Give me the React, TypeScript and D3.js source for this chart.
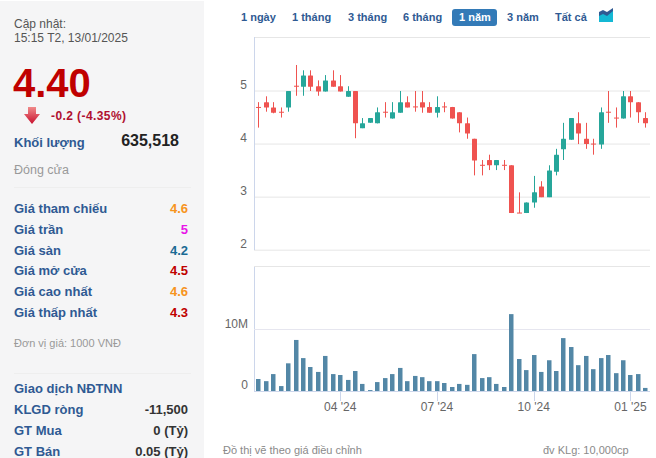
import React from "react";
import * as d3 from "d3";

const opens = [4.69,4.79,4.69,4.6,4.69,5.09,5.08,5.29,5.09,4.99,5.2,5.09,4.89,5.0,4.3,4.4,4.39,4.6,4.48,4.59,4.79,4.7,4.79,4.7,4.59,4.7,4.7,4.6,4.39,4.1,3.6,3.7,3.6,3.6,3.6,2.7,2.7,2.9,3.2,3.0,3.48,3.9,4.08,4.39,4.1,4.0,3.99,4.6,4.49,4.48,4.9,4.79,4.49];
const closes = [4.69,4.69,4.59,4.6,5.0,5.09,5.29,5.08,4.99,5.2,5.08,4.99,5.0,4.39,4.39,4.49,4.6,4.6,4.6,4.79,4.69,4.7,4.69,4.59,4.7,4.7,4.48,4.39,4.2,3.69,3.6,3.6,3.7,3.6,2.7,2.7,2.9,3.09,3.0,3.5,3.8,4.1,4.49,4.2,4.0,4.0,4.6,4.6,4.49,4.9,4.79,4.6,4.39];
const highs = [4.79,4.9,4.79,4.69,5.0,5.49,5.39,5.39,5.2,5.3,5.39,5.3,5.09,5.0,4.49,4.49,4.69,4.79,4.79,5.0,4.9,5.0,5.0,4.79,4.9,4.79,4.7,4.6,4.5,4.1,3.7,3.8,3.7,3.7,3.6,3.09,2.9,3.4,3.3,3.6,3.91,4.4,4.49,4.6,4.4,4.1,4.69,5.0,4.69,5.0,5.0,4.79,4.6];
const lows = [4.31,4.61,4.58,4.5,4.61,4.91,4.91,5.0,4.91,4.99,5.08,4.99,4.89,4.11,4.3,4.4,4.39,4.5,4.48,4.59,4.69,4.61,4.59,4.59,4.5,4.6,4.48,4.22,4.1,3.41,3.41,3.51,3.51,3.51,2.7,2.7,2.7,2.8,3.0,3.0,3.41,3.7,4.08,4.0,3.91,3.8,3.91,4.4,4.31,4.48,4.5,4.4,4.31];
const volumes = [1.95,1.6,2.75,0.8,4.5,8.3,5.35,3.9,3.1,5.7,2.75,2.6,1.8,3.25,1.15,0.15,1.45,2.1,2.75,3.75,1.6,2.45,2.25,1.6,1.6,1.3,0.65,1.15,1.0,6.0,2.1,2.25,1.15,0.65,12.5,5.2,3.4,5.85,3.1,5.0,3.25,8.6,7.15,4.2,5.7,3.55,5.35,5.85,2.9,5.0,2.6,2.75,0.5];
const xTickIndex = [11,24,37,50];
const xTickLabels = ["04 '24","07 '24","10 '24","01 '25"];
const priceTicks = [2,3,4,5];
const volumeTicks = [0,10];
const ranges = ["1 ngày","1 tháng","3 tháng","6 tháng","1 năm","3 năm","Tất cả"];
const rangeX = [241,292,348,403,459,507,555];
const priceRows: [string,string,string][] = [["Giá tham chiếu","4.6","#f7941d"],["Giá trần","5","#e815e8"],["Giá sàn","4.2","#1a6a94"],["Giá mở cửa","4.5","#c00000"],["Giá cao nhất","4.6","#f7941d"],["Giá thấp nhất","4.3","#c00000"]];
const foreignRows: [string,string][] = [["KLGD ròng","-11,500"],["GT Mua","0 (Tỷ)"],["GT Bán","0.05 (Tỷ)"]];

const RED = "#ef5350";
const TEAL = "#26a69a";
const BLUE = "#2f5a93";
const FONT = "Arial, 'Liberation Sans', sans-serif";

export default function App() {
  const x = d3.scaleLinear().domain([0, 52]).range([258.3, 645.3]);
  const yP = d3.scaleLinear().domain([2, 5]).range([250.2, 91]);
  const yV = d3.scaleLinear().domain([0, 10]).range([391, 329.5]);
  const rowY = d3.scaleLinear().domain([0, 5]).range([213, 317]);
  const fY = d3.scaleLinear().domain([0, 2]).range([414, 456]);
  const T = (p: any) => <text fontFamily={FONT} {...p} />;
  return (
    <svg width={656} height={458} style={{ position: "absolute", left: 0, top: 0, background: "#fff" }}>
      <defs>
        <linearGradient id="arrow" x1="0" x2="0" y1="0" y2="1">
          <stop offset="0" stopColor="#f08a8a" />
          <stop offset="1" stopColor="#c8102e" />
        </linearGradient>
      </defs>
      <rect x={0} y={1} width={204} height={457} fill="#f5f5f6" />
      <T x={14} y={28} fontSize={12} fill="#555">Cập nhật:</T>
      <T x={14} y={42} fontSize={12} fill="#555">15:15 T2, 13/01/2025</T>
      <T x={13} y={97} fontSize={40} fontWeight="bold" fill="#c00000">4.40</T>
      <path d="M28 107h8v7h4l-8 10l-8-10h4z" fill="url(#arrow)" />
      <T x={51} y={120} fontSize={12} fontWeight="bold" fill="#b01030" textLength={75}>-0.2 (-4.35%)</T>
      <T x={14} y={147} fontSize={13} fontWeight="bold" fill={BLUE}>Khối lượng</T>
      <T x={179} y={146} fontSize={16} fontWeight="bold" fill="#222" textAnchor="end">635,518</T>
      <T x={14} y={174} fontSize={12.5} fill="#999">Đóng cửa</T>
      <line x1={14} x2={191} y1={187.5} y2={187.5} stroke="#eeeeee" />
      {priceRows.map(([l, v, c], i) => (
        <g key={l}>
          <T x={14} y={rowY(i)} fontSize={13} fontWeight="bold" fill={BLUE}>{l}</T>
          <T x={188} y={rowY(i)} fontSize={13} fontWeight="bold" fill={c} textAnchor="end">{v}</T>
        </g>
      ))}
      <T x={14} y={347} fontSize={11} fill="#999">Đơn vị giá: 1000 VNĐ</T>
      <line x1={14} x2={191} y1={373.5} y2={373.5} stroke="#eeeeee" />
      <T x={14} y={393} fontSize={13} fontWeight="bold" fill={BLUE}>Giao dịch NĐTNN</T>
      {foreignRows.map(([l, v], i) => (
        <g key={l}>
          <T x={14} y={fY(i)} fontSize={13} fontWeight="bold" fill={BLUE}>{l}</T>
          <T x={188} y={fY(i)} fontSize={13} fontWeight="bold" fill="#333" textAnchor="end">{v}</T>
        </g>
      ))}

      <rect x={452} y={9} width={45} height={17} rx={3} fill="#337ab7" />
      {ranges.map((r, i) => (
        <T key={r} x={rangeX[i]} y={21} fontSize={11} fontWeight="bold" fill={i === 4 ? "#fff" : BLUE}>{r}</T>
      ))}
      <path d="M599 22v-10l4-2l4 2l6-4v14z" fill="#2f5a93" />
      <path d="M599 22v-6l4-2l4 2l6-5v11z" fill="#14b8d4" />

      {priceTicks.map(t => (
        <g key={t}>
          <line x1={254} x2={650} y1={yP(t)} y2={yP(t)} stroke="#e6e6e6" />
          <T x={247} y={yP(t) - 2} fontSize={12} fill="#666" textAnchor="end">{t}</T>
        </g>
      ))}
      <line x1={254} x2={650} y1={37.5} y2={37.5} stroke="#e6e6e6" />
      <line x1={254.5} x2={254.5} y1={37} y2={250} stroke="#ccd6eb" />
      <line x1={254.5} x2={254.5} y1={266} y2={391} stroke="#ccd6eb" />
      <line x1={254} x2={650} y1={266.5} y2={266.5} stroke="#e6e6e6" />
      <line x1={254} x2={650} y1={yV(10)} y2={yV(10)} stroke="#e6e6ef" />
      <line x1={254} x2={650} y1={391.5} y2={391.5} stroke="#ccd6eb" />
      <T x={248} y={yV(10) - 2} fontSize={12} fill="#666" textAnchor="end">10M</T>
      <T x={248} y={389} fontSize={12} fill="#666" textAnchor="end">{volumeTicks[0]}</T>

      {opens.map((o, i) => {
        const c = closes[i];
        const col = c > o ? TEAL : RED;
        const top = Math.min(yP(o), yP(c));
        const h = Math.abs(yP(o) - yP(c));
        const wx = Math.round(x(i)) + 0.5;
        return (
          <g key={i}>
            <line x1={wx} x2={wx} y1={yP(highs[i])} y2={yP(lows[i])} stroke={col} strokeWidth={1} />
            {h < 1 ? (
              <rect x={wx - 2.5} y={top - 0.5} width={5} height={1} fill={col} />
            ) : (
              <rect x={wx - 2.5} y={top} width={5} height={h} rx={0.5} fill={col} />
            )}
          </g>
        );
      })}

      {volumes.map((v, i) => (
        <rect key={i} x={Math.round(x(i)) - 2} y={yV(v)} width={4.5} height={yV(0) - yV(v)} fill="#5387a6" />
      ))}

      {xTickIndex.map((t, i) => (
        <g key={t}>
          <line x1={Math.round(x(t)) + 0.5} x2={Math.round(x(t)) + 0.5} y1={391} y2={401} stroke="#ccd6eb" />
          <T x={x(t)} y={411} fontSize={12} fill="#666" textAnchor="middle">{xTickLabels[i]}</T>
        </g>
      ))}
      <T x={223} y={454} fontSize={11} fill="#8a8a8a">Đồ thị vẽ theo giá điều chỉnh</T>
      <T x={543} y={454} fontSize={11} fill="#8a8a8a">đv KLg: 10,000cp</T>
    </svg>
  );
}
